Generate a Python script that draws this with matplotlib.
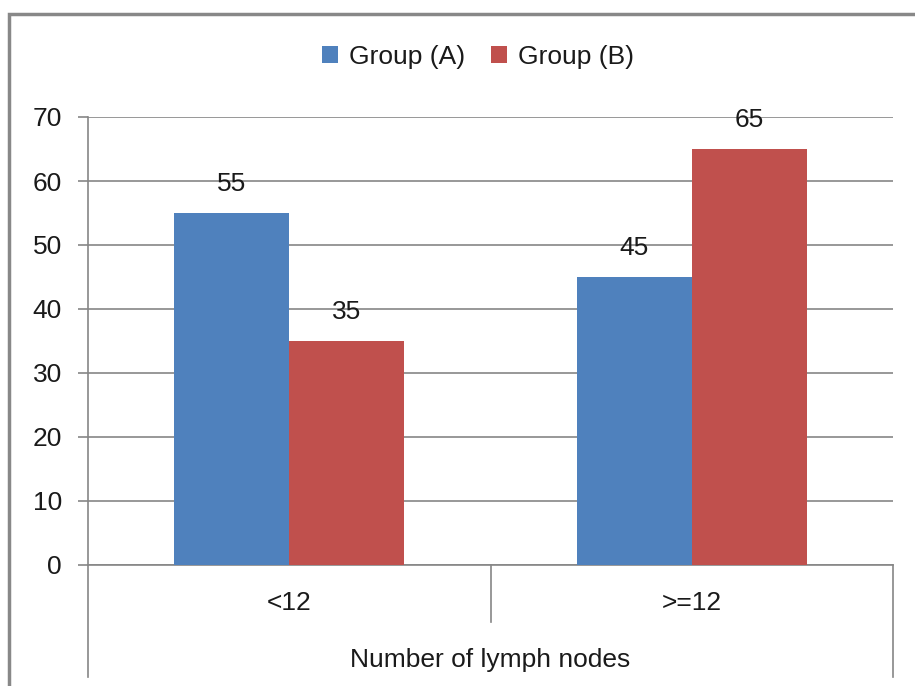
import matplotlib
matplotlib.use("Agg")
import matplotlib.pyplot as plt
from matplotlib.patches import Rectangle
import numpy as np

categories = ["<12", ">=12"]
group_a = [55, 45]
group_b = [35, 65]
series_names = ["Group (A)", "Group (B)"]
y_ticks = [0, 10, 20, 30, 40, 50, 60, 70]
x_title = "Number of lymph nodes"

plt.rcParams['font.family'] = ['Liberation Sans', 'DejaVu Sans']

W, H = 915, 686
fig = plt.figure(figsize=(W / 100, H / 100), dpi=100)
ax = fig.add_axes([88 / W, (H - 565) / H, (893 - 88) / W, (565 - 117) / H])

blue = "#4F81BD"
red = "#C0504D"
grid_c = "#868686"
txt_c = "#1a1a1a"
fs = 19

x = np.arange(len(categories))
bw = 0.286
bars_a = ax.bar(x - bw / 2, group_a, bw, color=blue, label=series_names[0], zorder=3)
bars_b = ax.bar(x + bw / 2, group_b, bw, color=red, label=series_names[1], zorder=3)

for bars, vals in ((bars_a, group_a), (bars_b, group_b)):
    for b, v in zip(bars, vals):
        ax.annotate(f"{v}", (b.get_x() + b.get_width() / 2, v), xytext=(0, 12),
                    textcoords="offset points", ha="center", va="bottom",
                    fontsize=fs, color=txt_c, zorder=4)

ax.set_xlim(-0.5, len(categories) - 0.5)
ax.set_ylim(0, 70)
ax.set_yticks(y_ticks)
ax.set_yticklabels([str(t) for t in y_ticks], fontsize=fs, color=txt_c)
ax.yaxis.grid(True, color=grid_c, linewidth=1.2, zorder=0)
ax.set_axisbelow(True)
ax.tick_params(axis='y', length=7.2, width=1.2, color=grid_c, pad=11.5)
ax.set_xticks([])
for s in ("top", "right"):
    ax.spines[s].set_visible(False)
ax.spines['left'].set_color(grid_c)
ax.spines['left'].set_linewidth(1.2)
ax.spines['bottom'].set_color(grid_c)
ax.spines['bottom'].set_linewidth(1.2)

# category dividers below the axis
trans = ax.get_xaxis_transform()
outer_drop = -(677 - 565) / (565 - 117)
inner_drop = -(622 - 565) / (565 - 117)
ax.plot([-0.5, -0.5], [0, outer_drop], transform=trans, color=grid_c, lw=1.2, clip_on=False)
ax.plot([len(categories) - 0.5] * 2, [0, outer_drop], transform=trans, color=grid_c, lw=1.2, clip_on=False)
for i in range(1, len(categories)):
    ax.plot([i - 0.5] * 2, [0, inner_drop], transform=trans, color=grid_c, lw=1.2, clip_on=False)

cat_y = -(603 - 565) / (565 - 117)
for xi, c in zip(x, categories):
    ax.text(xi, cat_y, c, transform=trans, ha="center", va="center", fontsize=fs, color=txt_c)
title_y = -(660 - 565) / (565 - 117)
ax.text(0.5, title_y, x_title, transform=ax.transAxes, ha="center", va="center",
        fontsize=fs, color=txt_c)

leg = fig.legend(handles=[bars_a, bars_b], labels=series_names, loc="center",
                 bbox_to_anchor=(478 / W, 1 - 57 / H), ncol=2, frameon=False,
                 fontsize=fs, handlelength=0.6, handleheight=0.6, handletextpad=0.4,
                 columnspacing=1.0)
for t in leg.get_texts():
    t.set_color(txt_c)

# outer chart border
fig.patches.append(Rectangle((9 / W, -0.05), 1.0, 1 - 14 / H + 0.05, transform=fig.transFigure,
                             fill=False, edgecolor="#888888", linewidth=2.5))

fig.savefig("out.png", dpi=100)
